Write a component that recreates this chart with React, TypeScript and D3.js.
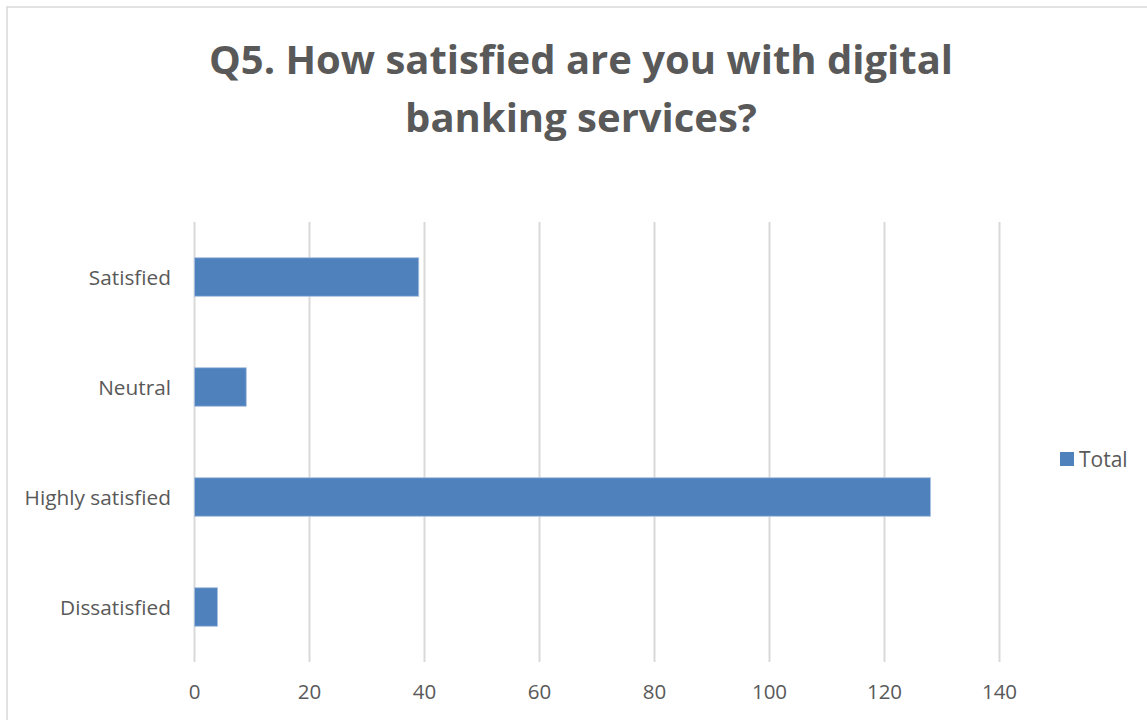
import React from "react";
import * as d3 from "d3";

const categories = ["Satisfied", "Neutral", "Highly satisfied", "Dissatisfied"];
const totals = [39, 9, 128, 4];
const xTicks = [0, 20, 40, 60, 80, 100, 120, 140];
const titleLines = ["Q5. How satisfied are you with digital", "banking services?"];
const seriesName = "Total";

const W = 1147;
const H = 720;
const FONT = "'Open Sans', 'Liberation Sans', sans-serif";
const GRAY = "#595959";
const BLUE = "#4f81bd";

export default function App() {
  const x = d3.scaleLinear().domain([0, 140]).range([194.5, 999.5]);
  const y = d3.scaleBand<string>().domain(categories).range([222, 662]).paddingInner(0.65).paddingOuter(0.325);

  return (
    <svg width={W} height={H} style={{ position: "absolute", left: 0, top: 0, background: "#fff" }} fontFamily={FONT}>
      <rect x={7} y={7} width={W + 10} height={H + 10} fill="#fff" stroke="#d9d9d9" strokeWidth={1.5} />
      {titleLines.map((t, i) => (
        <text key={i} x={581} y={74 + i * 58} textAnchor="middle" fontSize={40} fontWeight="bold" fill={GRAY}>
          {t}
        </text>
      ))}
      {xTicks.map((t) => (
        <g key={t}>
          <line x1={x(t)} x2={x(t)} y1={222} y2={662} stroke="#d9d9d9" strokeWidth={2} />
          <text x={x(t)} y={699} textAnchor="middle" fontSize={20.5} fill={GRAY}>
            {t}
          </text>
        </g>
      ))}
      {categories.map((c, i) => (
        <g key={c}>
          <rect
            x={x(0)}
            y={y(c)!}
            width={x(totals[i]) - x(0)}
            height={y.bandwidth()}
            fill={BLUE}
            stroke="#a9c1e0"
            strokeWidth={0.8}
          />
          <text x={171} y={y(c)! + y.bandwidth() / 2} textAnchor="end" dominantBaseline="central" fontSize={20.8} fill={GRAY}>
            {c}
          </text>
        </g>
      ))}
      <rect x={1060} y={452} width={14} height={14} fill={BLUE} />
      <text x={1079} y={459} dominantBaseline="central" fontSize={21} fill={GRAY}>
        {seriesName}
      </text>
    </svg>
  );
}
